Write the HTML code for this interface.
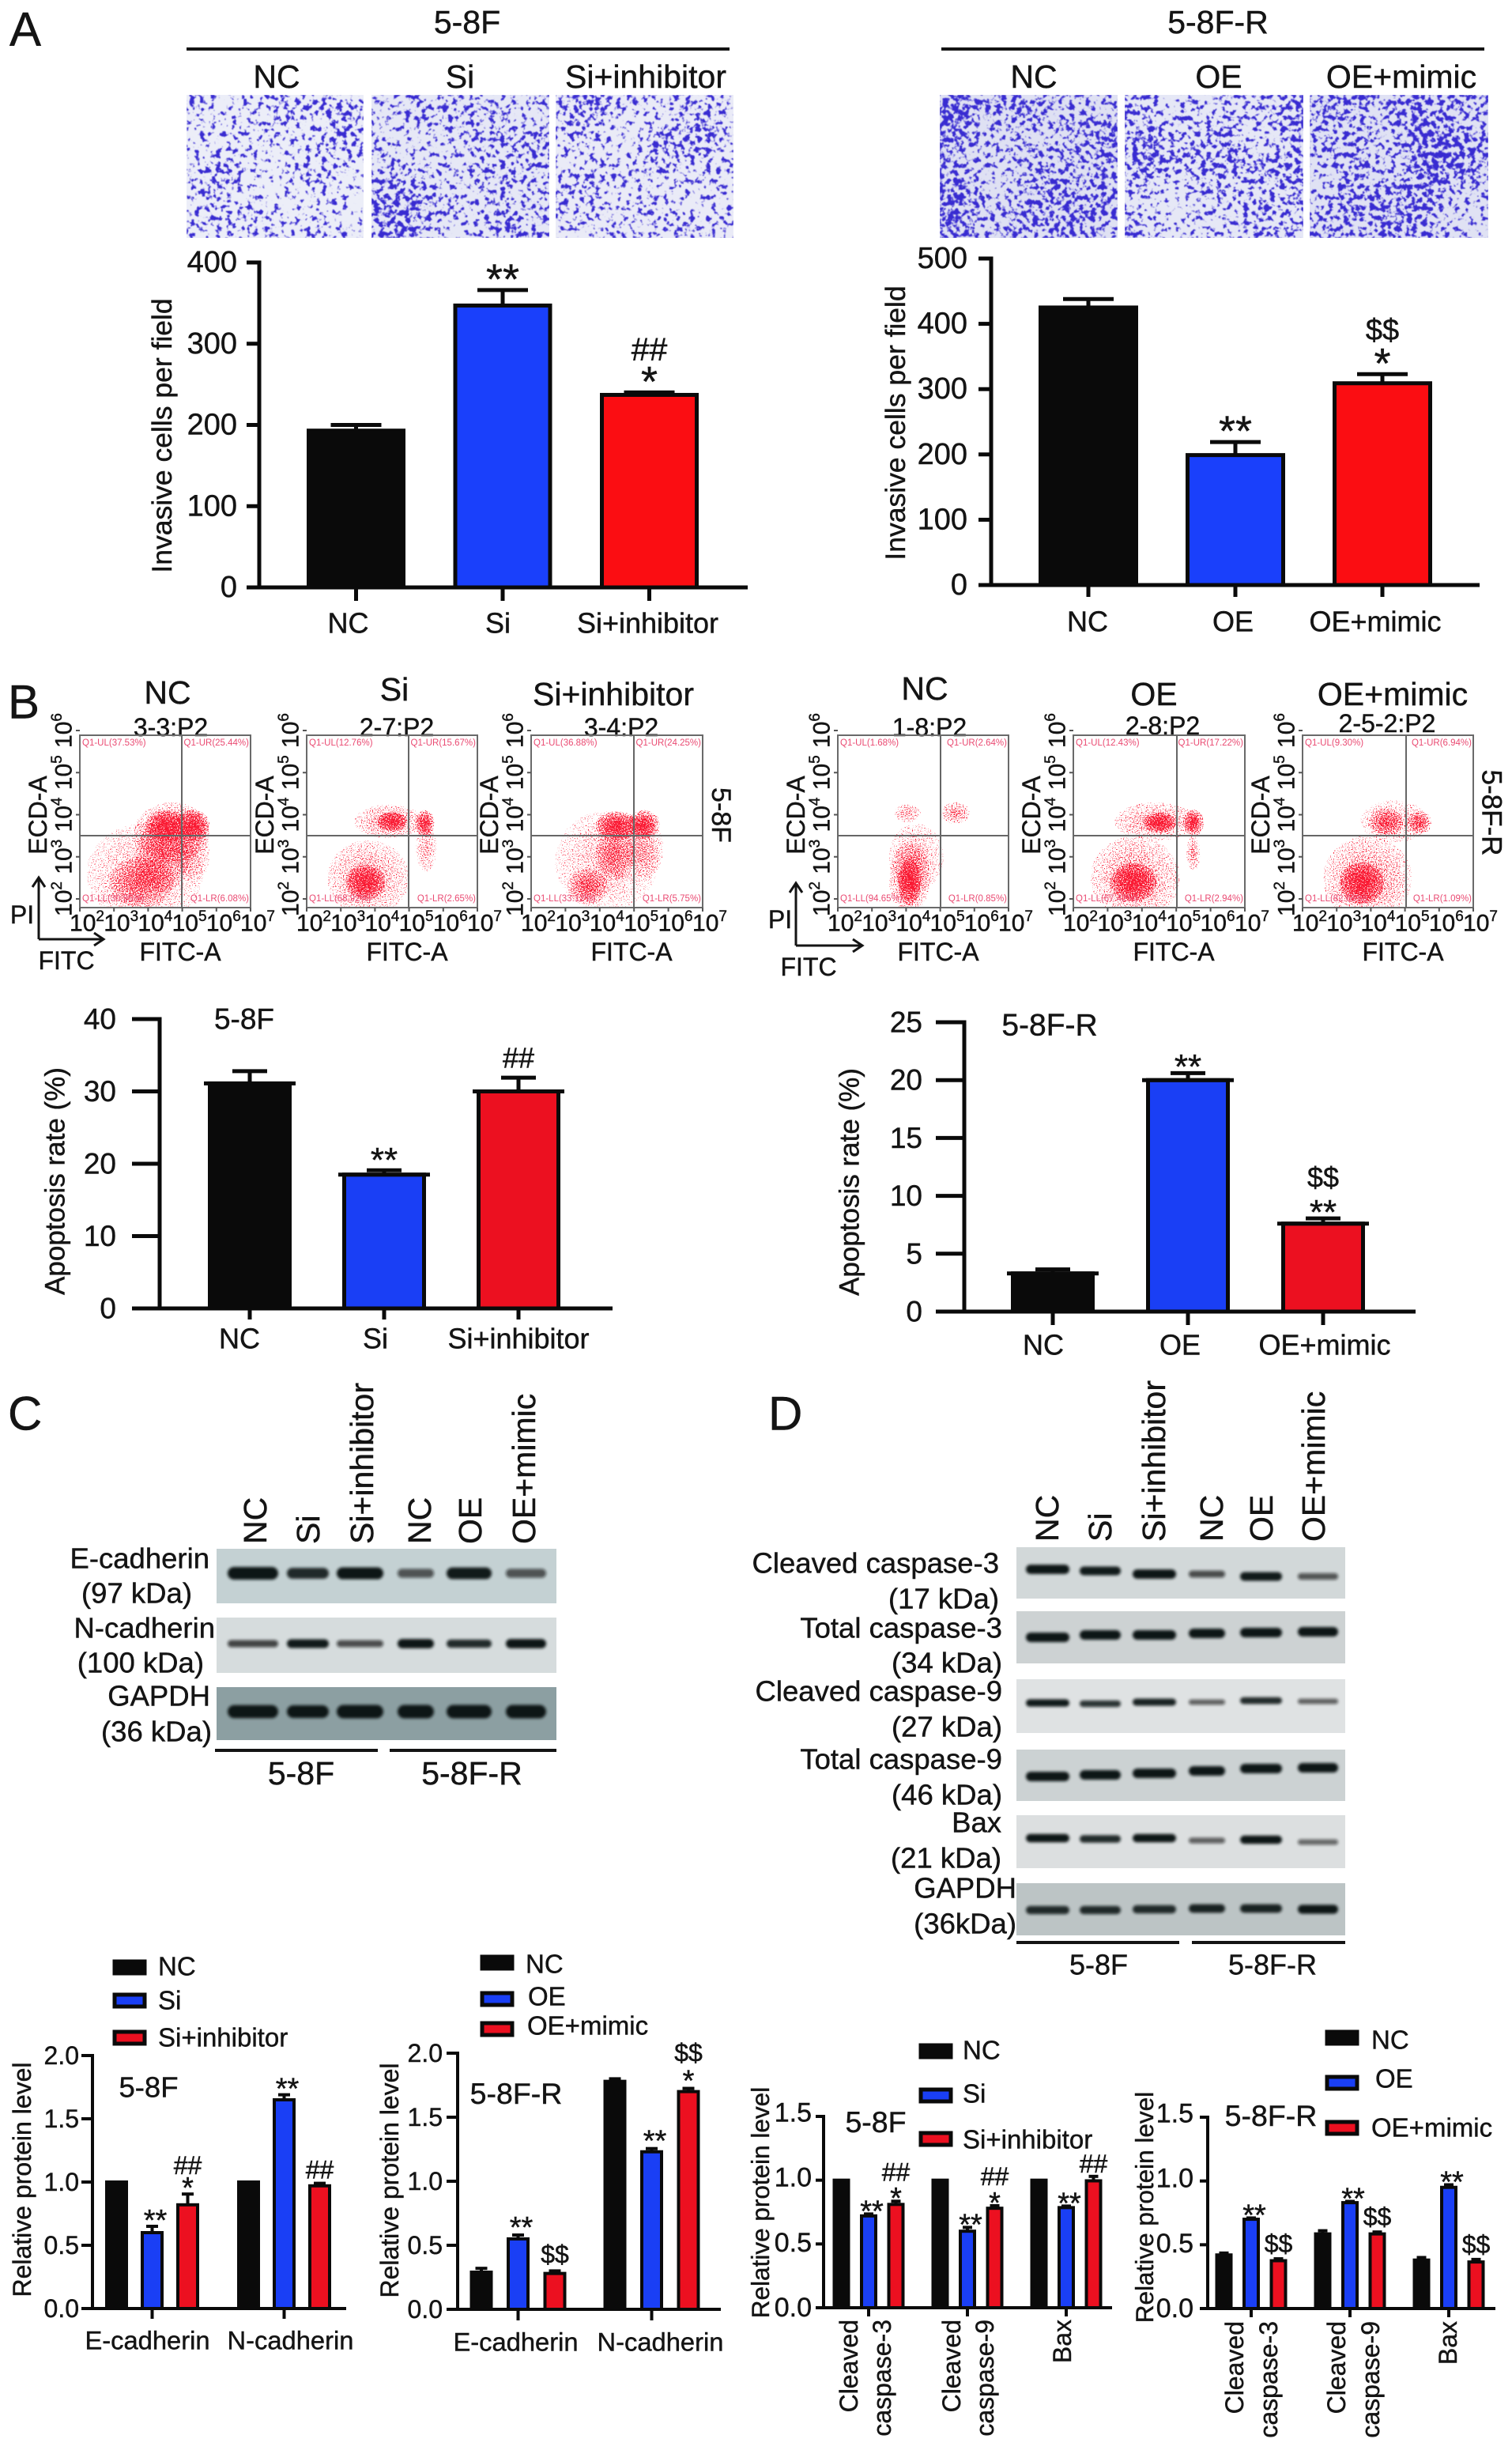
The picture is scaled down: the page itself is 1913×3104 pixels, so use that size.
<!DOCTYPE html>
<html lang="en">
<head>
<meta charset="utf-8">
<title>Invasion, apoptosis and protein level panels</title>
<style>
html,body{margin:0;padding:0;background:#fff}
svg{display:block}
text{font-family:"Liberation Sans",sans-serif;fill:#141414;stroke:#141414;stroke-width:.45px;dominant-baseline:central}
.m{text-anchor:middle}.e{text-anchor:end}
.s40{font-size:41px}.s36{font-size:36.5px}.s32{font-size:32px}.s33{font-size:33px}.s60{font-size:60px}
</style>
</head>
<body>
<svg id="figure" xmlns="http://www.w3.org/2000/svg" width="1913" height="3104" viewBox="0 0 1913 3104">
<defs id="defs">
<radialGradient id="blob"><stop offset="0" stop-color="#000" stop-opacity="1"/><stop offset=".6" stop-color="#000" stop-opacity=".62"/><stop offset="1" stop-color="#000" stop-opacity=".3"/></radialGradient>
<filter id="bandBlur" x="-20%" y="-80%" width="140%" height="260%"><feGaussianBlur stdDeviation="1.8"/></filter>
</defs>
<rect x="0" y="0" width="1913" height="3104" fill="#fff"/>

<!-- Panel letters -->
<text class="s60" x="12" y="37">A</text>
<text class="s60" x="10" y="888">B</text>
<text class="s60" x="10" y="1788">C</text>
<text class="s60" x="972" y="1788">D</text>

<!-- Panel A headers -->
<text class="s40 m" x="591" y="28">5-8F</text>
<rect x="236" y="60" width="687" height="4" fill="#141414"/>
<text class="s40 m" x="350" y="97">NC</text>
<text class="s40 m" x="582" y="97">Si</text>
<text class="s40 m" x="817" y="97">Si+inhibitor</text>
<text class="s40 m" x="1541" y="28">5-8F-R</text>
<rect x="1191" y="60" width="687" height="4" fill="#141414"/>
<text class="s40 m" x="1308" y="97">NC</text>
<text class="s40 m" x="1542" y="97">OE</text>
<text class="s40 m" x="1773" y="97">OE+mimic</text>
<g id="micrographs"></g>

<!-- Panel B titles -->
<text class="s40 m" x="212" y="876">NC</text>
<text class="s40 m" x="499" y="872">Si</text>
<text class="s40 m" x="776" y="878">Si+inhibitor</text>
<text class="s32 m" x="216" y="920">3-3:P2</text>
<text class="s32 m" x="502" y="920">2-7:P2</text>
<text class="s32 m" x="786" y="920">3-4:P2</text>
<text class="s40 m" x="1170" y="871">NC</text>
<text class="s40 m" x="1460" y="878">OE</text>
<text class="s40 m" x="1762" y="878">OE+mimic</text>
<text class="s32 m" x="1176" y="920">1-8:P2</text>
<text class="s32 m" x="1471" y="918">2-8:P2</text>
<text class="s32 m" x="1755" y="915">2-5-2:P2</text>
<text class="m" font-size="34" transform="rotate(90 912 1031)" x="912" y="1031">5-8F</text>
<text class="m" font-size="35" transform="rotate(90 1887 1028)" x="1887" y="1028">5-8F-R</text>
<g id="flow"></g>
<!-- PI / FITC arrows -->
<g fill="none" stroke="#141414" stroke-width="3">
<path d="M49 1188V1110M41 1122L49 1110L57 1122M49 1188H131M119 1180L131 1188L119 1196"/>
</g>
<text class="s32 m" x="28" y="1157">PI</text>
<text class="s32 m" x="84" y="1215">FITC</text>
<g fill="none" stroke="#141414" stroke-width="3">
<path d="M1007 1196V1117M999 1129L1007 1117L1015 1129M1007 1196H1091M1079 1188L1091 1196L1079 1204"/>
</g>
<text class="s32 m" x="987" y="1163">PI</text>
<text class="s32 m" x="1023" y="1223">FITC</text>

<!-- Blot C labels -->
<g id="blotC"></g>
<text class="s36 e" x="265" y="1971">E-cadherin</text>
<text class="s36 e" x="243" y="2015">(97 kDa)</text>
<text class="s36 e" x="272" y="2059">N-cadherin</text>
<text class="s36 e" x="258" y="2103">(100 kDa)</text>
<text class="s36 e" x="266" y="2145">GAPDH</text>
<text class="s36 e" x="268" y="2190">(36 kDa)</text>
<text class="s40" transform="rotate(-90 323 1953)" x="323" y="1953">NC</text>
<text class="s40" transform="rotate(-90 390 1953)" x="390" y="1953">Si</text>
<text class="s40" transform="rotate(-90 458 1953)" x="458" y="1953">Si+inhibitor</text>
<text class="s40" transform="rotate(-90 531 1953)" x="531" y="1953">NC</text>
<text class="s40" transform="rotate(-90 595 1953)" x="595" y="1953">OE</text>
<text class="s40" transform="rotate(-90 663 1953)" x="663" y="1953">OE+mimic</text>
<rect x="272" y="2212" width="206" height="4" fill="#141414"/>
<rect x="493" y="2212" width="211" height="4" fill="#141414"/>
<text class="m" font-size="41" x="381" y="2243">5-8F</text>
<text class="m" font-size="41" x="597" y="2243">5-8F-R</text>

<!-- Blot D labels -->
<g id="blotD"></g>
<text class="s36 e" x="1264" y="1977">Cleaved caspase-3</text>
<text class="s36 e" x="1264" y="2022">(17 kDa)</text>
<text class="s36 e" x="1268" y="2059">Total caspase-3</text>
<text class="s36 e" x="1268" y="2103">(34 kDa)</text>
<text class="s36 e" x="1268" y="2139">Cleaved caspase-9</text>
<text class="s36 e" x="1268" y="2184">(27 kDa)</text>
<text class="s36 e" x="1268" y="2225">Total caspase-9</text>
<text class="s36 e" x="1268" y="2270">(46 kDa)</text>
<text class="s36 e" x="1267" y="2305">Bax</text>
<text class="s36 e" x="1267" y="2350">(21 kDa)</text>
<text class="s36 e" x="1286" y="2388">GAPDH</text>
<text class="s36 e" x="1286" y="2433">(36kDa)</text>
<text class="s40" transform="rotate(-90 1325 1950)" x="1325" y="1950">NC</text>
<text class="s40" transform="rotate(-90 1392 1950)" x="1392" y="1950">Si</text>
<text class="s40" transform="rotate(-90 1460 1950)" x="1460" y="1950">Si+inhibitor</text>
<text class="s40" transform="rotate(-90 1533 1950)" x="1533" y="1950">NC</text>
<text class="s40" transform="rotate(-90 1596 1950)" x="1596" y="1950">OE</text>
<text class="s40" transform="rotate(-90 1662 1950)" x="1662" y="1950">OE+mimic</text>
<rect x="1286" y="2455" width="206" height="4" fill="#141414"/>
<rect x="1508" y="2455" width="194" height="4" fill="#141414"/>
<text class="m" font-size="36" x="1390" y="2485">5-8F</text>
<text class="m" font-size="36" x="1610" y="2485">5-8F-R</text>

<!-- Legends -->
<g stroke="#0a0a0a" stroke-width="5">
<rect x="145" y="2481" width="38" height="15" fill="#0a0a0a"/>
<rect x="145" y="2523" width="38" height="15" fill="#1a3ff5"/>
<rect x="145" y="2570" width="38" height="15" fill="#ec1020"/>
</g>
<text class="s33" x="200" y="2487">NC</text>
<text class="s33" x="200" y="2530">Si</text>
<text class="s33" x="200" y="2577">Si+inhibitor</text>
<g stroke="#0a0a0a" stroke-width="5">
<rect x="610" y="2475" width="38" height="15" fill="#0a0a0a"/>
<rect x="610" y="2521" width="38" height="15" fill="#1a3ff5"/>
<rect x="610" y="2559" width="38" height="15" fill="#ec1020"/>
</g>
<text class="s33" x="665" y="2484">NC</text>
<text class="s33" x="668" y="2525">OE</text>
<text class="s33" x="667" y="2562">OE+mimic</text>
<g stroke="#0a0a0a" stroke-width="5">
<rect x="1165" y="2587" width="38" height="15" fill="#0a0a0a"/>
<rect x="1165" y="2643" width="38" height="15" fill="#1a3ff5"/>
<rect x="1165" y="2698" width="38" height="15" fill="#ec1020"/>
</g>
<text class="s33" x="1218" y="2593">NC</text>
<text class="s33" x="1218" y="2648">Si</text>
<text class="s33" x="1218" y="2706">Si+inhibitor</text>
<g stroke="#0a0a0a" stroke-width="5">
<rect x="1679" y="2570" width="38" height="15" fill="#0a0a0a"/>
<rect x="1679" y="2627" width="38" height="15" fill="#1a3ff5"/>
<rect x="1679" y="2684" width="38" height="15" fill="#ec1020"/>
</g>
<text class="s33" x="1735" y="2580">NC</text>
<text class="s33" x="1740" y="2629">OE</text>
<text class="s33" x="1735" y="2691">OE+mimic</text>

<!-- Chart titles inside plots -->
<text class="m" font-size="37" x="309" y="1289">5-8F</text>
<text class="m" font-size="39" x="1328" y="1297">5-8F-R</text>
<text class="m" font-size="36.5" x="188" y="2640">5-8F</text>
<text class="m" font-size="37.5" x="653" y="2648">5-8F-R</text>
<text class="m" font-size="37.5" x="1108" y="2684">5-8F</text>
<text class="m" font-size="37.5" x="1608" y="2676">5-8F-R</text>

<g id="charts"></g>
</svg>

<script>
// ---------- Chart data ----------
const a1Categories = ['NC', 'Si', 'Si+inhibitor'];
const a1Values = [193, 347, 237];
const a1Errors = [7, 19, 3];
const a1Ticks = [0, 100, 200, 300, 400];
const a1Marks = [[], ['**'], ['*', '##']];

const a2Categories = ['NC', 'OE', 'OE+mimic'];
const a2Values = [425, 199, 309];
const a2Errors = [13, 20, 14];
const a2Ticks = [0, 100, 200, 300, 400, 500];
const a2Marks = [[], ['**'], ['*', '$$']];

const b1Categories = ['NC', 'Si', 'Si+inhibitor'];
const b1Values = [31.1, 18.5, 30];
const b1Errors = [1.7, 0.6, 1.9];
const b1Ticks = [0, 10, 20, 30, 40];
const b1Marks = [[], ['**'], ['##']];

const b2Categories = ['NC', 'OE', 'OE+mimic'];
const b2Values = [3.3, 20, 7.6];
const b2Errors = [0.35, 0.6, 0.45];
const b2Ticks = [0, 5, 10, 15, 20, 25];
const b2Marks = [[], ['**'], ['**', '$$']];

const c1Categories = ['E-cadherin', 'N-cadherin'];
const c1Nc = [1, 1];
const c1Si = [0.6, 1.65];
const c1Inhibitor = [0.82, 0.97];
const c1NcErr = [0, 0];
const c1SiErr = [0.05, 0.04];
const c1InhibitorErr = [0.085, 0.02];
const c1Ticks = [0, 0.5, 1, 1.5, 2];
const c1Marks = [[[], ['**'], ['*', '##']], [[], ['**'], ['##']]];

const c2Categories = ['E-cadherin', 'N-cadherin'];
const c2Nc = [0.29, 1.78];
const c2Oe = [0.55, 1.23];
const c2Mimic = [0.28, 1.7];
const c2NcErr = [0.03, 0.02];
const c2OeErr = [0.03, 0.025];
const c2MimicErr = [0.02, 0.025];
const c2Ticks = [0, 0.5, 1, 1.5, 2];
const c2Marks = [[[], ['**'], ['$$']], [[], ['**'], ['*', '$$']]];

const d1Categories = [['Cleaved', 'caspase-3'], ['Cleaved', 'caspase-9'], ['Bax']];
const d1Nc = [1, 1, 1];
const d1Si = [0.72, 0.6, 0.785];
const d1Inhibitor = [0.81, 0.78, 0.995];
const d1NcErr = [0, 0, 0];
const d1SiErr = [0.015, 0.03, 0.012];
const d1InhibitorErr = [0.025, 0.02, 0.035];
const d1Ticks = [0, 0.5, 1, 1.5];
const d1Marks = [[[], ['**'], ['*', '##']], [[], ['**'], ['*', '##']], [[], ['**'], ['##']]];

const d2Categories = [['Cleaved', 'caspase-3'], ['Cleaved', 'caspase-9'], ['Bax']];
const d2Nc = [0.42, 0.585, 0.38];
const d2Oe = [0.7, 0.83, 0.95];
const d2Mimic = [0.375, 0.585, 0.365];
const d2NcErr = [0.015, 0.025, 0.02];
const d2OeErr = [0.01, 0.01, 0.02];
const d2MimicErr = [0.015, 0.015, 0.02];
const d2Ticks = [0, 0.5, 1, 1.5];
const d2Marks = [[[], ['**'], ['$$']], [[], ['**'], ['$$']], [[], ['**'], ['$$']]];

// ---------- Flow cytometry data (log10 units) ----------
const flowDecades = [2, 3, 4, 5, 6, 7];
const flowYDecades = [2, 3, 4, 5, 6];
const flowQuadrants = [
  ['37.53', '25.44', '30.95', '6.08'],
  ['12.76', '15.67', '68.92', '2.65'],
  ['36.88', '24.25', '33.12', '5.75'],
  ['1.68', '2.64', '94.65', '0.85'],
  ['12.43', '17.22', '67.42', '2.94'],
  ['9.30', '6.94', '82.68', '1.09']
];
// each: log FITC, log ECD, spread FITC, spread ECD, weight
const flowClusters = [
  [[4.55,3.75,.62,.36,1],[5.3,3.75,.5,.38,1],[4.7,3.6,1.1,.7,.6],[3.8,2.4,.95,.6,.62],[4.4,3,.8,.8,.5],[3.9,2.6,1.7,1.2,.4],[5.3,3.1,.5,.7,.45]],
  [[4.5,3.85,.45,.24,.95],[5.46,3.8,.28,.32,1],[3.72,2.4,.58,.42,1],[3.8,2.5,1.2,.9,.5],[4.4,3.85,1,.4,.55],[5.5,3.2,.3,.55,.45]],
  [[4.5,3.75,.62,.34,1],[5.28,3.78,.47,.34,1],[3.65,2.3,.6,.42,.68],[4.45,3.1,.55,.65,.55],[4.2,2.9,1.5,1.2,.4],[5.3,3.2,.55,.7,.42]],
  [[4.1,2.4,.34,.55,1],[4.1,2.5,.6,.85,.6],[4.05,4.05,.38,.22,.5],[5.45,4.05,.42,.26,.58],[4.3,3,.8,.8,.4]],
  [[4.52,3.82,.48,.24,1],[5.5,3.82,.3,.32,1],[3.75,2.4,.68,.46,1],[3.8,2.5,1.3,1,.55],[5.5,3.1,.2,.42,.55],[4.4,3.85,1.2,.45,.52]],
  [[4.44,3.82,.5,.34,.7],[5.42,3.82,.36,.28,.75],[3.73,2.38,.65,.5,1],[3.9,2.5,1.3,1,.55],[4.7,3.85,1,.5,.4]]
];

// ---------- Blot band intensities ----------
const cBandStrength = [[1,.75,.9,.45,.85,.45],[.55,.85,.5,.95,.75,.95],[.95,.9,1,1,1,1]];
const dBandStrength = [[.95,.85,.95,.5,.85,.45],[1,1,1,1,1,1],[.85,.7,.8,.4,.75,.4],[1,1,1,1,1,1],[.9,.75,.9,.4,.9,.35],[.75,.75,.75,.8,.8,.9]];

// ---------- Helpers ----------
const NS = 'http://www.w3.org/2000/svg';
function make(parent, tag, attrs, name) {
  const el = document.createElementNS(NS, tag);
  for (const k in attrs) el.setAttribute(k, attrs[k]);
  
  
  parent.appendChild(el);
  return el;
}
function label(parent, str, x, y, size, anchor, rot, name, weight) {
  const attrs = { x: x, y: y, 'font-size': size, 'text-anchor': anchor };
  if (rot) attrs.transform = 'rotate(' + rot + ' ' + x + ' ' + y + ')';
  if (weight) attrs['font-weight'] = weight;
  const el = make(parent, 'text', attrs, name);
  el.textContent = str;
  return el;
}
const BLACK = '#0a0a0a';

// ---------- Bar chart ----------
function drawChart(cfg) {
  const root = document.getElementById('charts');
  const g = make(root, 'g', {}, cfg.name);
  const yScale = v => cfg.y0 - (v / cfg.yMax) * (cfg.y0 - cfg.yTop);
  const nBars = cfg.series.length;
  const barStep = cfg.barStep || 0;
  const xScale = (grp, bar) => cfg.first + grp * cfg.groupStep + bar * barStep;
  const groupCentre = grp => xScale(grp, (nBars - 1) / 2);

  // bars, error bars, significance marks
  cfg.categories.forEach((cat, grp) => {
    cfg.series.forEach((vals, bar) => {
      const v = vals[grp], err = cfg.errors[bar][grp];
      const cx = xScale(grp, bar);
      const colour = cfg.colors[nBars === 1 ? grp : bar];
      const top = yScale(v), errTop = yScale(v + err);
      if (err > 0) {
        make(g, 'line', { x1: cx, x2: cx, y1: top, y2: errTop, stroke: BLACK, 'stroke-width': cfg.sw }, 'error-bar');
        make(g, 'line', { x1: cx - cfg.capW / 2, x2: cx + cfg.capW / 2, y1: errTop, y2: errTop, stroke: BLACK, 'stroke-width': cfg.sw }, 'error-cap');
      }
      make(g, 'rect', { x: cx - cfg.barW / 2 + cfg.sw / 2, y: top, width: cfg.barW - cfg.sw, height: cfg.y0 - top, fill: colour, stroke: BLACK, 'stroke-width': cfg.sw }, 'bar');
      if (cfg.over) make(g, 'line', { x1: cx - cfg.barW / 2 - cfg.over, x2: cx + cfg.barW / 2 + cfg.over, y1: top, y2: top, stroke: BLACK, 'stroke-width': cfg.sw }, 'bar-top-line');
      const stack = nBars === 1 ? cfg.marks[grp] : cfg.marks[grp][bar];
      stack.forEach((m, i) => {
        const isStar = m[0] === '*';
        const first = stack[0][0] === '*' ? cfg.starGap : cfg.symGap;
        const size = isStar ? cfg.starSize : cfg.symSize;
        const yc = errTop - first - cfg.markStep * i + (isStar ? size * 0.234 : 0);
        label(g, m, cx + (isStar && m.length > 1 && nBars > 1 ? 4 : 0), yc, size, 'middle', 0, 'significance-mark');
      });
    });
  });

  // axes
  make(g, 'line', { x1: cfg.axisX, x2: cfg.axisX, y1: cfg.yTop - cfg.axis / 2, y2: cfg.y0 + cfg.axis / 2, stroke: BLACK, 'stroke-width': cfg.axis }, 'y-axis');
  make(g, 'line', { x1: cfg.axisX - cfg.tickL, x2: cfg.axisEnd, y1: cfg.y0, y2: cfg.y0, stroke: BLACK, 'stroke-width': cfg.axis }, 'x-axis');
  cfg.ticks.forEach((t, i) => {
    const y = yScale(t);
    make(g, 'line', { x1: cfg.axisX - cfg.tickL, x2: cfg.axisX, y1: y, y2: y, stroke: BLACK, 'stroke-width': cfg.axis }, 'y-tick');
    label(g, cfg.decimals ? t.toFixed(cfg.decimals) : String(t), cfg.tickRight, y + (cfg.tickLift ? -cfg.tickLift * i : 0), cfg.tickSize, 'end', 0, 'y-tick-label');
  });
  cfg.categories.forEach((cat, grp) => {
    const cx = groupCentre(grp);
    make(g, 'line', { x1: cx, x2: cx, y1: cfg.y0, y2: cfg.y0 + cfg.tickDown, stroke: BLACK, 'stroke-width': cfg.axis }, 'x-tick');
    if (Array.isArray(cat)) {
      cat.forEach((line, i) => {
        label(g, line, cx + cfg.rotDx[grp][i], cfg.labelY, cfg.labelSize, 'end', -90, 'x-category-label');
      });
    } else {
      label(g, cat, cx + cfg.labelDx[grp], cfg.labelY, cfg.labelSize, 'middle', 0, 'x-category-label');
    }
  });
  label(g, cfg.title, cfg.titleX, cfg.titleY, cfg.titleSize, 'middle', -90, 'y-axis-title');
}

const colorsA = [BLACK, '#1a40fb', '#fb0d12'];
const colorsB = [BLACK, '#1a3ff5', '#ec1020'];

drawChart({ name: 'invasion-chart-5-8f', categories: a1Categories, series: [a1Values], errors: [a1Errors], marks: a1Marks, ticks: a1Ticks,
  colors: colorsA, yMax: 400, y0: 743, yTop: 332, axisX: 328, axisEnd: 946, tickL: 16, tickDown: 17, axis: 5, sw: 5,
  first: 450.5, groupStep: 185.5, barW: 125, capW: 64, labelY: 788, labelDx: [-10, -6, -2], labelSize: 36, tickSize: 38, tickRight: 300,
  starGap: 26, symGap: 26, markStep: 29, starSize: 54, symSize: 41, title: 'Invasive cells per field', titleX: 205, titleY: 551, titleSize: 35.5 });

drawChart({ name: 'invasion-chart-5-8f-r', categories: a2Categories, series: [a2Values], errors: [a2Errors], marks: a2Marks, ticks: a2Ticks,
  colors: colorsA, yMax: 500, y0: 740, yTop: 327, axisX: 1254, axisEnd: 1872, tickL: 16, tickDown: 15, axis: 5, sw: 5,
  first: 1377, groupStep: 186, barW: 126, capW: 64, labelY: 786, labelDx: [-1, -3, -9], labelSize: 36, tickSize: 38, tickRight: 1224,
  starGap: 26, symGap: 26, markStep: 29, starSize: 54, symSize: 38, title: 'Invasive cells per field', titleX: 1133, titleY: 535, titleSize: 35.5 });

drawChart({ name: 'apoptosis-chart-5-8f', categories: b1Categories, series: [b1Values], errors: [b1Errors], marks: b1Marks, ticks: b1Ticks,
  colors: colorsB, yMax: 40, y0: 1655, yTop: 1289, axisX: 202, axisEnd: 775, tickL: 35, tickDown: 14, axis: 5, sw: 5, over: 5,
  first: 316, groupStep: 170, barW: 106, capW: 44, labelY: 1693, labelDx: [-13, -11, 0], labelSize: 36, tickSize: 37, tickRight: 147,
  starGap: 23, symGap: 25, markStep: 34, starSize: 44, symSize: 36, title: 'Apoptosis rate (%)', titleX: 70, titleY: 1494, titleSize: 35 });

drawChart({ name: 'apoptosis-chart-5-8f-r', categories: b2Categories, series: [b2Values], errors: [b2Errors], marks: b2Marks, ticks: b2Ticks,
  colors: colorsB, yMax: 25, y0: 1659, yTop: 1293, axisX: 1220, axisEnd: 1791, tickL: 36, tickDown: 17, axis: 5, sw: 5, over: 5,
  first: 1332, groupStep: 171, barW: 106, capW: 44, labelY: 1701, labelDx: [-12, -10, 2], labelSize: 36, tickSize: 37, tickRight: 1167,
  starGap: 18, symGap: 25, markStep: 34, starSize: 44, symSize: 36, title: 'Apoptosis rate (%)', titleX: 1075, titleY: 1495, titleSize: 35 });

drawChart({ name: 'cadherin-chart-5-8f', categories: c1Categories, series: [c1Nc, c1Si, c1Inhibitor], errors: [c1NcErr, c1SiErr, c1InhibitorErr], marks: c1Marks, ticks: c1Ticks, decimals: 1,
  colors: colorsB, yMax: 2, y0: 2920, yTop: 2600, axisX: 117, axisEnd: 438, tickL: 14, tickDown: 13, axis: 4, sw: 4,
  first: 147.5, barStep: 45, groupStep: 167, barW: 29, capW: 15, labelY: 2960, labelDx: [-6, 8], labelSize: 32.7, tickSize: 32, tickRight: 100,
  starGap: 16, symGap: 17, markStep: 20, starSize: 38, symSize: 32, title: 'Relative protein level', titleX: 28, titleY: 2757, titleSize: 32 });

drawChart({ name: 'cadherin-chart-5-8f-r', categories: c2Categories, series: [c2Nc, c2Oe, c2Mimic], errors: [c2NcErr, c2OeErr, c2MimicErr], marks: c2Marks, ticks: c2Ticks, decimals: 1,
  colors: colorsB, yMax: 2, y0: 2921, yTop: 2597, axisX: 579, axisEnd: 912, tickL: 14, tickDown: 14, axis: 4, sw: 4,
  first: 609, barStep: 46.5, groupStep: 169, barW: 29, capW: 15, labelY: 2962, labelDx: [-3, 11], labelSize: 32.7, tickSize: 32, tickRight: 560,
  starGap: 18, symGap: 21, markStep: 27, starSize: 38, symSize: 32, title: 'Relative protein level', titleX: 493, titleY: 2758, titleSize: 32 });

drawChart({ name: 'caspase-chart-5-8f', categories: d1Categories, series: [d1Nc, d1Si, d1Inhibitor], errors: [d1NcErr, d1SiErr, d1InhibitorErr], marks: d1Marks, ticks: d1Ticks, decimals: 1,
  colors: colorsB, yMax: 1.5, y0: 2919, yTop: 2677, axisX: 1042, axisEnd: 1407, tickL: 10, tickDown: 11, axis: 4, sw: 4,
  first: 1064.5, barStep: 34.5, groupStep: 125, barW: 22, capW: 12, labelY: 2934, rotDx: [[-25, 17], [-20, 22], [-5]], labelSize: 32, tickSize: 34, tickRight: 1027, tickLift: 1.5,
  starGap: 12, symGap: 16, markStep: 25, starSize: 38, symSize: 32, title: 'Relative protein level', titleX: 962, titleY: 2786, titleSize: 31.5 });

drawChart({ name: 'caspase-chart-5-8f-r', categories: d2Categories, series: [d2Nc, d2Oe, d2Mimic], errors: [d2NcErr, d2OeErr, d2MimicErr], marks: d2Marks, ticks: d2Ticks, decimals: 1,
  colors: colorsB, yMax: 1.5, y0: 2920, yTop: 2678, axisX: 1528, axisEnd: 1892, tickL: 10, tickDown: 11, axis: 4, sw: 4,
  first: 1548.5, barStep: 34.5, groupStep: 125, barW: 22, capW: 12, labelY: 2936, rotDx: [[-21, 22], [-17, 26], [-1]], labelSize: 32, tickSize: 34, tickRight: 1510, tickLift: 1.5,
  starGap: 12, symGap: 19, markStep: 25, starSize: 38, symSize: 32, title: 'Relative protein level', titleX: 1448, titleY: 2792, titleSize: 31.5 });

// ---------- Micrographs (procedural stain texture) ----------
(function () {
  const defs = document.getElementById('defs');
  const host = document.getElementById('micrographs');
  const layout = [
    { x: 236, w: 224, seed: 3, t: .565, bg: '#eceef8', n: 'micrograph-nc' },
    { x: 470, w: 225, seed: 8, t: .53, bg: '#e6e8f6', n: 'micrograph-si' },
    { x: 703, w: 225, seed: 12, t: .555, bg: '#eaebf7', n: 'micrograph-si-inhibitor' },
    { x: 1189, w: 225, seed: 21, t: .505, bg: '#dfe1f3', n: 'micrograph-nc-r' },
    { x: 1423, w: 226, seed: 27, t: .525, bg: '#e6e8f6', n: 'micrograph-oe' },
    { x: 1657, w: 226, seed: 34, t: .515, bg: '#e0e2f4', n: 'micrograph-oe-mimic' }
  ];
  layout.forEach((m, i) => {
    const k = 9;
    const f = make(defs, 'filter', { id: 'mic' + i, x: 0, y: 0, width: 1, height: 1, 'color-interpolation-filters': 'sRGB' }, 'stain-texture-filter');
    f.innerHTML = '<feTurbulence type="fractalNoise" baseFrequency="0.15" numOctaves="3" seed="' + m.seed + '" result="hi"/>' +
      '<feColorMatrix in="hi" values="0 0 0 0 0  0 0 0 0 0  0 0 0 0 0  1 0 0 0 0" result="hia"/>' +
      '<feTurbulence type="fractalNoise" baseFrequency="0.013" numOctaves="2" seed="' + (m.seed + 40) + '" result="lo"/>' +
      '<feColorMatrix in="lo" values="0 0 0 0 0  0 0 0 0 0  0 0 0 0 0  1 0 0 0 0" result="loa"/>' +
      '<feComposite in="hia" in2="loa" operator="arithmetic" k1="0" k2="1" k3=".3" k4="-.15"/>' +
      '<feColorMatrix values="0 0 0 0 .22  0 0 0 0 .17  0 0 0 0 .82  0 0 0 ' + k + ' ' + (-k * m.t) + '"/>' +
      '<feGaussianBlur stdDeviation=".6"/>';
    make(host, 'rect', { x: m.x, y: 120, width: m.w, height: 181, fill: m.bg }, m.n);
    make(host, 'rect', { x: m.x, y: 120, width: m.w, height: 181, fill: '#000', filter: 'url(#mic' + i + ')' }, m.n + '-stain');
  });
})();

// ---------- Flow plots ----------
(function () {
  const defs = document.getElementById('defs');
  const host = document.getElementById('flow');
  const boxes = [
    { l: 101, r: 317, v: 230, seed: 2, n: 'flow-plot-nc' },
    { l: 388, r: 604, v: 517, seed: 5, n: 'flow-plot-si' },
    { l: 672, r: 889, v: 802, seed: 7, n: 'flow-plot-si-inhibitor' },
    { l: 1060, r: 1276, v: 1190, seed: 11, n: 'flow-plot-nc-r' },
    { l: 1358, r: 1575, v: 1489, seed: 13, n: 'flow-plot-oe' },
    { l: 1648, r: 1864, v: 1779, seed: 17, n: 'flow-plot-oe-mimic' }
  ];
  const top = 930, bottom = 1148, hLine = 1057;
  boxes.forEach((b, i) => {
    const w = b.r - b.l;
    const sx = v => b.l + ((v - 2) / 5) * w;
    const sy = v => bottom - ((v - 1.8) / 4.1) * (bottom - top);
    const g = make(host, 'g', {}, b.n);
    const f = make(defs, 'filter', { id: 'flowDots' + i, filterUnits: 'userSpaceOnUse', x: b.l, y: top, width: w, height: bottom - top, 'color-interpolation-filters': 'sRGB' }, 'flow-dot-filter');
    f.innerHTML = '<feTurbulence type="fractalNoise" baseFrequency="0.7" numOctaves="2" seed="' + b.seed + '" result="n"/>' +
      '<feColorMatrix in="n" values="0 0 0 0 0  0 0 0 0 0  0 0 0 0 0  2.4 0 0 0 -.7" result="na"/>' +
      '<feComposite in="SourceAlpha" in2="na" operator="arithmetic" k1="0" k2="1" k3="1" k4="-1" result="d"/>' +
      '<feColorMatrix in="d" values="0 0 0 0 .98  0 0 0 0 .1  0 0 0 0 .2  0 0 0 6 0"/>';
    const dots = make(g, 'g', { filter: 'url(#flowDots' + i + ')' }, 'flow-events');
    flowClusters[i].forEach(c => {
      make(dots, 'ellipse', { cx: sx(c[0]), cy: sy(c[1]), rx: (c[2] / 5) * w, ry: (c[3] / 4.1) * (bottom - top), fill: 'url(#blob)', opacity: c[4] }, 'flow-cluster');
    });
    make(g, 'rect', { x: b.l, y: top, width: w, height: bottom - top, fill: 'none', stroke: '#6a6a6a', 'stroke-width': 2 }, 'flow-frame');
    make(g, 'line', { x1: b.v, x2: b.v, y1: top, y2: bottom, stroke: '#666', 'stroke-width': 2 }, 'flow-gate-vertical');
    make(g, 'line', { x1: b.l, x2: b.r, y1: hLine, y2: hLine, stroke: '#666', 'stroke-width': 2 }, 'flow-gate-horizontal');
    const q = flowQuadrants[i];
    const pink = { 'font-size': 11.5, style: 'fill:#ea4a72;stroke:none' };
    const qText = (s, x, y, anchor, name) => {
      const el = make(g, 'text', Object.assign({ x: x, y: y, 'text-anchor': anchor }, pink), name);
      el.textContent = s;
    };
    qText('Q1-UL(' + q[0] + '%)', b.l + 3, top + 10, 'start', 'quadrant-label-ul');
    qText('Q1-UR(' + q[1] + '%)', b.r - 2, top + 10, 'end', 'quadrant-label-ur');
    qText('Q1-LL(' + q[2] + '%)', b.l + 3, bottom - 11, 'start', 'quadrant-label-ll');
    qText('Q1-LR(' + q[3] + '%)', b.r - 2, bottom - 11, 'end', 'quadrant-label-lr');

    flowDecades.forEach((d, k) => {
      const x = b.l + 9 + k * (w / 5);
      const el = make(g, 'text', { x: x, y: 1168, 'font-size': 30, 'text-anchor': 'middle' }, 'x-tick-label');
      el.appendChild(document.createTextNode('10'));
      const sup = make(el, 'tspan', { dy: -9, 'font-size': 19 }, 'x-tick-exponent');
      sup.textContent = d;
      make(g, 'line', { x1: b.l + k * (w / 5), x2: b.l + k * (w / 5), y1: bottom, y2: bottom + 5, stroke: '#555', 'stroke-width': 2 }, 'x-tick');
    });
    flowYDecades.forEach((d, k) => {
      const y = 1137 - k * 53.25;
      const x = b.l - 20;
      const el = make(g, 'text', { x: x, y: y, 'font-size': 30, 'text-anchor': 'middle', transform: 'rotate(-90 ' + x + ' ' + y + ')' }, 'y-tick-label');
      el.appendChild(document.createTextNode('10'));
      const sup = make(el, 'tspan', { dy: -9, 'font-size': 19 }, 'y-tick-exponent');
      sup.textContent = d;
      make(g, 'line', { x1: b.l - 5, x2: b.l, y1: y, y2: y, stroke: '#555', 'stroke-width': 2 }, 'y-tick');
    });
    label(g, 'FITC-A', b.l + 127, 1204, 32, 'middle', 0, 'x-axis-title');
    label(g, 'ECD-A', b.l - 53, 1031, 32, 'middle', -90, 'y-axis-title');
  });
})();

// ---------- Blots ----------
function drawBlot(hostId, spec, strengths) {
  const host = document.getElementById(hostId);
  spec.rows.forEach((row, r) => {
    make(host, 'rect', { x: spec.x, y: row.y, width: spec.w, height: row.h, fill: row.bg }, 'blot-membrane');
    const g = make(host, 'g', { filter: 'url(#bandBlur)' }, 'blot-bands');
    spec.cols.forEach((c, i) => {
      const s = strengths[r][i];
      const h = row.t * (.45 + .55 * s);
      const yc = Array.isArray(row.band) ? row.band[i] : row.band;
      make(g, 'rect', { x: c[0], y: yc - h / 2, width: c[1] - c[0], height: h, rx: h / 2, fill: '#101414', opacity: Math.min(1, .3 + .8 * s) }, 'blot-band');
    });
  });
}
drawBlot('blotC', {
  x: 274, w: 430,
  cols: [[288,352],[363,416],[426,485],[503,549],[565,622],[640,691]],
  rows: [
    { y: 1959, h: 69, bg: '#c4d1d3', band: 1990, t: 16 },
    { y: 2046, h: 70, bg: '#d6dcdd', band: 2079, t: 12 },
    { y: 2134, h: 67, bg: '#8c9fa2', band: 2165, t: 17 }
  ]
}, cBandStrength);
drawBlot('blotD', {
  x: 1286, w: 416,
  cols: [[1298,1353],[1366,1418],[1433,1488],[1504,1550],[1569,1622],[1642,1693]],
  rows: [
    { y: 1957, h: 65, bg: '#d2d8d9', band: [1985,1987,1991,1991,1994,1994], t: 12 },
    { y: 2038, h: 66, bg: '#cdd2d3', band: [2071,2068,2068,2066,2065,2064], t: 12 },
    { y: 2124, h: 68, bg: '#dfe2e3', band: [2154,2155,2153,2153,2151,2152], t: 10 },
    { y: 2213, h: 65, bg: '#ccd2d3', band: [2247,2245,2243,2240,2237,2236], t: 12 },
    { y: 2296, h: 67, bg: '#dcdfe0', band: [2325,2326,2325,2328,2327,2330], t: 11 },
    { y: 2382, h: 66, bg: '#bcc4c5', band: [2416,2416,2415,2414,2414,2415], t: 12 }
  ]
}, dBandStrength);
</script>
</body>
</html>
